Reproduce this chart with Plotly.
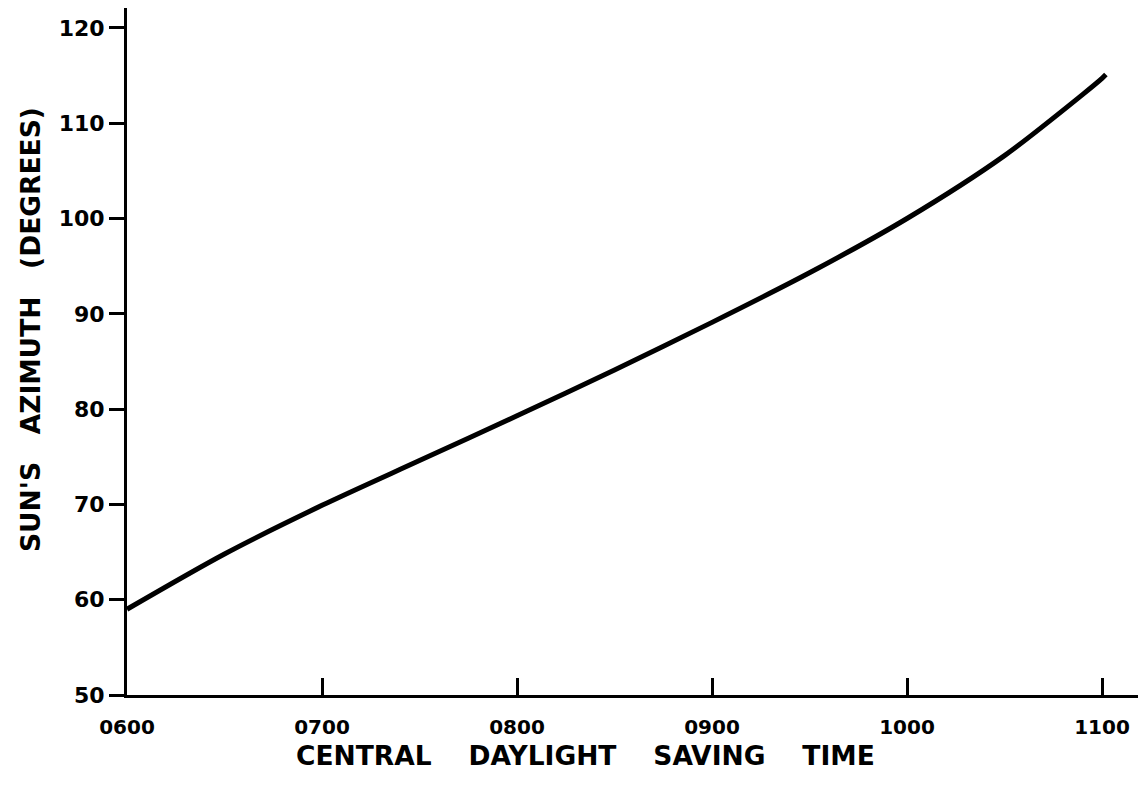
import plotly.graph_objects as go

# Data
time_hours = [6.0, 6.5, 7.0, 7.5, 8.0, 8.5, 9.0, 9.5, 10.0, 10.5, 10.9, 11.0, 11.02]
azimuth_deg = [59.0, 64.8, 69.9, 74.6, 79.3, 84.1, 89.1, 94.3, 100.0, 106.6, 113.0, 114.7, 115.1]

x_tick_vals = [6, 7, 8, 9, 10, 11]
x_tick_text = ["0600", "0700", "0800", "0900", "1000", "1100"]
y_tick_vals = [50, 60, 70, 80, 90, 100, 110, 120]
y_tick_text = ["50", "60", "70", "80", "90", "100", "110", "120"]

GAP_X = "\u00a0" * 4
GAP_Y = "\u00a0" * 3
x_title = GAP_X.join(["CENTRAL", "DAYLIGHT", "SAVING", "TIME"])
y_title = GAP_Y.join(["SUN'S", "AZIMUTH", "(DEGREES)"])

FONT = "DejaVu Sans"

# The page body has an 8px default margin; the figure is sized to fit the
# remaining window area.
W, H = 1138, 780
L, T = 119, 0
PLOT_W = 1019
PLOT_H = 687

fig = go.Figure()
fig.add_trace(go.Scatter(
    x=time_hours, y=azimuth_deg, mode="lines",
    line=dict(color="black", width=5, shape="spline", smoothing=0.8),
    showlegend=False, hoverinfo="skip",
))

fig.update_layout(
    width=W, height=H,
    margin=dict(l=L, r=W - L - PLOT_W, t=T, b=H - T - PLOT_H, pad=0),
    paper_bgcolor="white", plot_bgcolor="white",
    font=dict(family=FONT, color="black"),
    xaxis=dict(
        range=[6, 6 + PLOT_W / 195],
        tickmode="array", tickvals=x_tick_vals, ticktext=x_tick_text,
        ticks="inside", ticklen=17, tickwidth=2.5, tickcolor="black",
        showline=True, linewidth=3, linecolor="black",
        showgrid=False, zeroline=False,
        tickfont=dict(family=FONT, size=20, weight="bold"),
        ticklabelstandoff=12,
    ),
    yaxis=dict(
        range=[50, 50 + PLOT_H / 9.53],
        tickmode="array", tickvals=y_tick_vals, ticktext=y_tick_text,
        ticks="outside", ticklen=15, tickwidth=2.5, tickcolor="black",
        showline=True, linewidth=3, linecolor="black",
        showgrid=False, zeroline=False,
        tickfont=dict(family=FONT, size=22, weight="bold"),
    ),
    annotations=[
        dict(text=x_title, xref="paper", yref="paper",
             x=(585 - 127) / PLOT_W, y=-(755 - 695) / PLOT_H,
             xanchor="center", yanchor="middle", showarrow=False,
             font=dict(family=FONT, size=26.5, weight="bold", color="black")),
        dict(text=y_title, xref="paper", yref="paper",
             x=(30 - 127) / PLOT_W, y=(695 - 330) / PLOT_H, textangle=-90,
             xanchor="center", yanchor="middle", showarrow=False,
             font=dict(family=FONT, size=26.5, weight="bold", color="black")),
    ],
)

fig.write_html("out.html")
